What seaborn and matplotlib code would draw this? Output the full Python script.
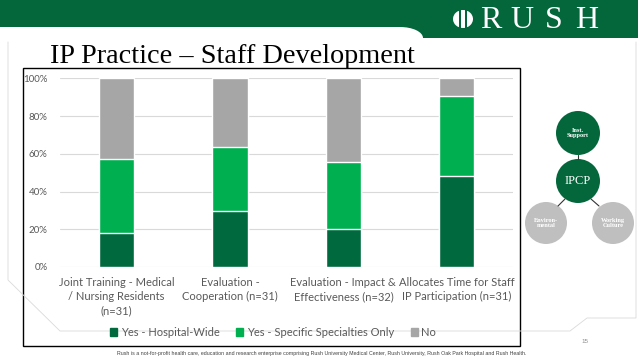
import matplotlib
matplotlib.use("Agg")
import matplotlib.pyplot as plt
import matplotlib.patches as mpatches
from matplotlib.ticker import FuncFormatter
import numpy as np
import seaborn as sns

# ---------------- data ----------------
categories = [
    "Joint Training - Medical\n/ Nursing Residents\n(n=31)",
    "Evaluation -\nCooperation (n=31)",
    "Evaluation - Impact &\nEffectiveness (n=32)",
    "Allocates Time for Staff\nIP Participation (n=31)",
]
hospital_wide = [0.178, 0.298, 0.200, 0.483]
specific_only = [0.395, 0.338, 0.358, 0.425]
no_answer = [0.427, 0.364, 0.442, 0.092]
series_labels = ["Yes - Hospital-Wide", "Yes - Specific Specialties Only", "No"]
y_ticks = [0, 0.2, 0.4, 0.6, 0.8, 1.0]

title_text = "IP Practice \u2013 Staff Development"
footer_text = ("Rush is a not-for-profit health care, education and research enterprise comprising "
               "Rush University Medical Center, Rush University, Rush Oak Park Hospital and Rush Health.")

DARK = "#00693E"
GREEN = "#00B050"
GRAY = "#A6A6A6"
HEADER = "#03673B"
TXT = "#595959"

sns.set_theme(style="white")
plt.rcParams["font.family"] = ["Lato", "DejaVu Sans"]

W, H = 638, 359
fig = plt.figure(figsize=(W / 100, H / 100), dpi=100)
fig.patch.set_facecolor("white")

# ---------- overlay (slide decoration) in pixel coords ----------
ov = fig.add_axes([0, 0, 1, 1], zorder=0)
ov.set_xlim(0, W)
ov.set_ylim(H, 0)
ov.axis("off")

# header band
ov.add_patch(mpatches.Rectangle((0, 0), W, 27, color=HEADER, lw=0))
ov.add_patch(mpatches.Rectangle((400, 0), W - 400, 38, color=HEADER, lw=0))
ov.add_patch(mpatches.Ellipse((400, 38), 46, 22, color="white", lw=0))

# logo glyph
ov.add_patch(mpatches.Ellipse((463, 19), 20, 18, color="white", lw=0))
ov.add_patch(mpatches.Rectangle((459.3, 9), 1.6, 20, color=HEADER, lw=0))
ov.add_patch(mpatches.Rectangle((465.1, 9), 1.6, 20, color=HEADER, lw=0))
for ch, xc in zip("RUSH", [491, 522, 553.5, 587]):
    ov.text(xc, 28.5, ch, family="Liberation Serif", fontsize=23, color="white",
            ha="center", va="baseline")

# slide frame
fx = [8, 8, 60, 570, 587, 636, 636]
fy = [42, 280, 331, 331, 318, 318, 42]
ov.plot(fx, fy, color="#DADADA", lw=0.6)

# title
ov.text(50, 63, title_text, family="Liberation Serif", fontsize=20.3, color="black",
        ha="left", va="baseline")

# chart border box
ov.add_patch(mpatches.Rectangle((23, 68), 497, 278, fill=True, facecolor="white",
                                edgecolor="black", lw=1.0))

# right-hand diagram
circ = [((578, 133), 22, HEADER, "Inst.\nSupport", 4.6, "bold"),
        ((578, 181), 22, HEADER, "IPCP", 9, "normal"),
        ((546, 223), 21, "#BFBFBF", "Environ-\nmental", 4.6, "bold"),
        ((613, 223), 21, "#BFBFBF", "Working\nCulture", 4.6, "bold")]
ov.plot([578, 578], [155, 159], color="#333333", lw=0.8)
ov.plot([565, 558], [199, 206], color="#333333", lw=0.8)
ov.plot([591, 599], [199, 206], color="#333333", lw=0.8)
for (c, r, col, lab, fs, fw) in circ:
    ov.add_patch(mpatches.Circle(c, r, color=col, lw=0))
    ov.text(c[0], c[1], lab, family="Liberation Serif", fontsize=fs, fontweight=fw,
            color="white", ha="center", va="center", linespacing=1.0)

# footer & page number
ov.text(322, 353.5, footer_text, family="Liberation Sans", fontsize=3.75, color="#404040",
        ha="center", va="center")
ov.text(585, 341.5, "15", family="Liberation Sans", fontsize=4.5, color="#8C8C8C",
        ha="center", va="center")

# ---------------- chart ----------------
ax = fig.add_axes([60 / W, 1 - 267 / H, (513.4 - 60) / W, (267 - 78.3) / H], zorder=1)
ax.set_facecolor("white")

hosp = np.array(hospital_wide)
spec = np.array(specific_only)
no = np.array(no_answer)

sns.barplot(x=categories, y=hosp + spec + no, color=GRAY, width=0.31, saturation=1,
            ax=ax, zorder=2)
sns.barplot(x=categories, y=hosp + spec, color=GREEN, width=0.31, saturation=1,
            ax=ax, zorder=3)
sns.barplot(x=categories, y=hosp, color=DARK, width=0.31, saturation=1,
            ax=ax, zorder=4)

ax.set_xlim(-0.5, len(categories) - 0.5)
ax.set_ylim(0, 1.0)
ax.set_yticks(y_ticks)
ax.yaxis.set_major_formatter(FuncFormatter(lambda v, p: f"{v * 100:.0f}%"))
ax.yaxis.grid(True, color="#D9D9D9", lw=0.8, zorder=0)
ax.set_axisbelow(True)
ax.set_xlabel("")
ax.set_ylabel("")
for s in ax.spines.values():
    s.set_visible(False)
ax.tick_params(axis="y", length=0, pad=9, labelsize=7, labelcolor=TXT)
ax.tick_params(axis="x", length=0, pad=7, labelsize=8, labelcolor=TXT)
for t in ax.get_xticklabels():
    t.set_linespacing(1.38)

handles = [mpatches.Patch(color=DARK), mpatches.Patch(color=GREEN), mpatches.Patch(color=GRAY)]
fig.legend(handles, series_labels, loc="center", bbox_to_anchor=(273 / W, 1 - 332.5 / H),
           ncol=3, frameon=False, handlelength=0.65, handleheight=0.65, handletextpad=0.3,
           columnspacing=1.5, fontsize=8, labelcolor=TXT)

fig.savefig("out.png", dpi=100, facecolor="white")
